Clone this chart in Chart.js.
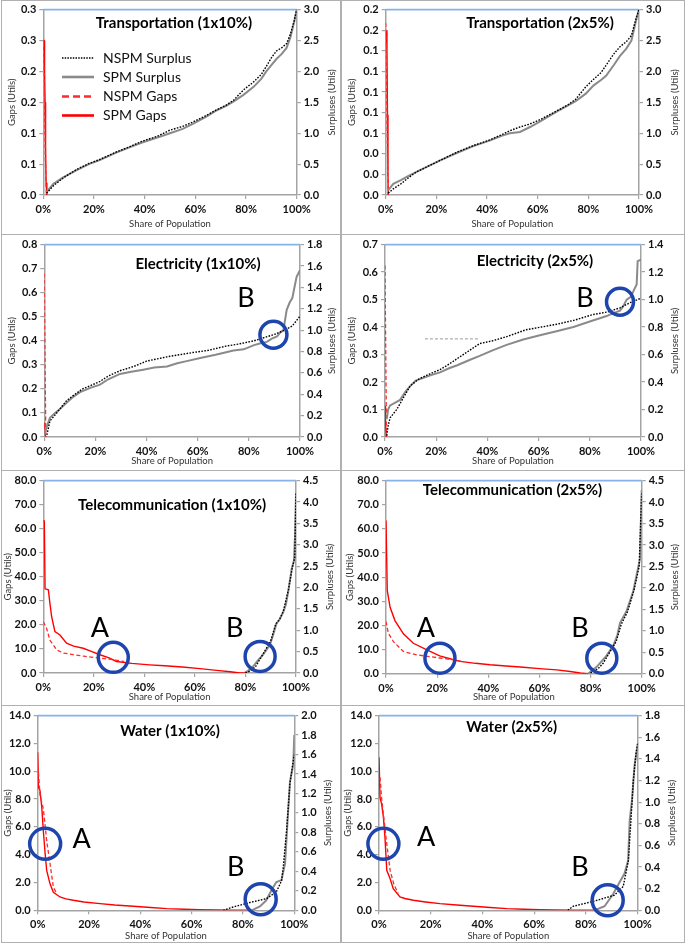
<!DOCTYPE html>
<html><head><meta charset="utf-8">
<script src="https://cdn.jsdelivr.net/npm/chart.js@4.4.1/dist/chart.umd.min.js"></script>
<style>
html,body{margin:0;padding:0;background:#fff;}
body{width:685px;height:944px;position:relative;overflow:hidden;}
.panel{position:absolute;}
.panel canvas{position:absolute;left:0;top:0;}
.frame{position:absolute;border:1px solid #b0b0b0;box-sizing:border-box;pointer-events:none;}
</style></head><body>
<script>
// ---------- tick labels ----------
const xTicks = ['0%','20%','40%','60%','80%','100%'];
const tr1_gapTicks = ['0.0','0.1','0.1','0.2','0.2','0.3','0.3'];
const tr2_gapTicks = ['0.0','0.0','0.0','0.1','0.1','0.1','0.1','0.1','0.2','0.2'];
const tr_surpTicks = ['0.0','0.5','1.0','1.5','2.0','2.5','3.0'];
const el1_gapTicks = ['0.0','0.1','0.2','0.3','0.4','0.5','0.6','0.7','0.8'];
const el1_surpTicks = ['0.0','0.2','0.4','0.6','0.8','1.0','1.2','1.4','1.6','1.8'];
const el2_gapTicks = ['0.0','0.1','0.2','0.3','0.4','0.5','0.6','0.7'];
const el2_surpTicks = ['0.0','0.2','0.4','0.6','0.8','1.0','1.2','1.4'];
const te_gapTicks = ['0.0','10.0','20.0','30.0','40.0','50.0','60.0','70.0','80.0'];
const te_surpTicks = ['0.0','0.5','1.0','1.5','2.0','2.5','3.0','3.5','4.0','4.5'];
const wa_gapTicks = ['0.0','2.0','4.0','6.0','8.0','10.0','12.0','14.0'];
const wa1_surpTicks = ['0.0','0.2','0.4','0.6','0.8','1.0','1.2','1.4','1.6','1.8','2.0'];
const wa2_surpTicks = ['0.0','0.2','0.4','0.6','0.8','1.0','1.2','1.4','1.6','1.8'];

// ---------- Transportation (1x10%) ----------
const tr1_surpX = [1.3,4,8,13,18,22,29,34,39,45,50,55,59,64,68,72,75,79,83,86,88,90,92,94,96,97.5,99,100];
const tr1_spmSurp = [0.05,0.18,0.29,0.40,0.50,0.56,0.69,0.77,0.85,0.93,1.0,1.07,1.15,1.26,1.36,1.44,1.51,1.62,1.75,1.88,2.0,2.1,2.2,2.28,2.38,2.55,2.8,3.0];
const tr1_nspmSurp = [0.03,0.15,0.28,0.41,0.51,0.57,0.70,0.78,0.87,0.95,1.05,1.11,1.18,1.28,1.37,1.45,1.53,1.70,1.83,1.95,2.08,2.22,2.33,2.38,2.45,2.6,2.82,3.0];
const tr1_spmGapX = [0,0.3,0.5,0.7,0.9,1.1,1.4];
const tr1_spmGap = [0.25,0.25,0.2,0.15,0.08,0.02,0];
const tr1_nspmGapX = [0,0.4,0.8,1.2];
const tr1_nspmGap = [0.24,0.18,0.06,0];

// ---------- Transportation (2x5%) ----------
const tr2_surpX = [1,3,6,9,12,17,21.5,28,34.6,41,46,49,53,57,61,67.5,72,75,79,82,85,87,90,92.5,95,97,99,100];
const tr2_spmSurp = [0.08,0.18,0.24,0.31,0.37,0.47,0.56,0.68,0.79,0.88,0.96,1.0,1.02,1.1,1.19,1.35,1.45,1.52,1.64,1.77,1.86,1.93,2.1,2.25,2.37,2.5,2.85,3.0];
const tr2_nspmSurp = [0.03,0.1,0.18,0.28,0.37,0.47,0.56,0.69,0.80,0.89,0.98,1.04,1.1,1.15,1.22,1.36,1.46,1.55,1.75,1.87,1.98,2.1,2.28,2.4,2.48,2.58,2.88,3.0];
const tr2_spmGapX = [0.3,0.5,0.7,0.9,1.0];
const tr2_spmGap = [0.16,0.14,0.078,0.02,0];
const tr2_nspmGapX = [0,0.2,0.4,0.7,1.0];
const tr2_nspmGap = [0.167,0.13,0.1,0.04,0];

// ---------- Electricity (1x10%) ----------
const el1_spmSurpX = [0,1,2.2,4,6,8.7,11,14,18,21.8,25,29.6,34,38.7,43,48,52,55.7,61,67,74,78,82,85,87,89,91,92,93.5,94.8,96,97,98,98.7,100];
const el1_spmSurp = [0.02,0.1,0.18,0.22,0.26,0.32,0.37,0.42,0.46,0.49,0.54,0.59,0.61,0.63,0.65,0.66,0.69,0.71,0.74,0.77,0.81,0.82,0.86,0.88,0.89,0.92,0.94,0.97,1.0,1.19,1.26,1.3,1.42,1.5,1.56];
const el1_nspmSurpX = [1,2.2,4,8.7,12,15,18,21.8,25,29.6,35,40,44,48,53,58,64,71,76,82,86,90,94,97,99,100];
const el1_nspmSurp = [0.02,0.15,0.2,0.34,0.4,0.45,0.48,0.52,0.57,0.62,0.66,0.71,0.73,0.75,0.77,0.79,0.81,0.85,0.87,0.9,0.93,0.96,1.0,1.04,1.1,1.13];
const el1_spmGapX = [0,0.5];
const el1_spmGap = [0.06,0];
const el1_nspmGapX = [0,0.3,0.6];
const el1_nspmGap = [0.68,0.3,0];

// ---------- Electricity (2x5%) ----------
const el2_spmSurpX = [0.7,1.2,2,4,5.9,8,9.8,12,15,18,21.5,25,28,33,37,42,47.5,54,60.5,67,73.6,80,86.6,89,91.8,93,94.4,96,97,98.3,98.7,100];
const el2_spmSurp = [0.13,0.2,0.23,0.25,0.27,0.33,0.37,0.41,0.43,0.45,0.47,0.5,0.52,0.56,0.59,0.63,0.67,0.71,0.74,0.77,0.8,0.84,0.88,0.9,0.92,0.95,1.0,1.02,1.06,1.11,1.28,1.29];
const el2_nspmSurpX = [0.7,1.2,2,4.6,7,9.8,13,17.6,21.5,25,29,33,37,42,47.5,55,61,67,74,81,87,91.8,96,100];
const el2_nspmSurp = [0.01,0.08,0.14,0.2,0.28,0.37,0.42,0.46,0.49,0.53,0.58,0.63,0.68,0.7,0.73,0.78,0.8,0.82,0.85,0.89,0.91,0.94,0.98,1.01];
const el2_spmGapX = [0,0.2,0.5];
const el2_spmGap = [0.114,0.05,0];
const el2_nspmGapX = [0,0.3,0.6];
const el2_nspmGap = [0.624,0.3,0];
const el2_strayX = [15.6,36.5];
const el2_stray = [0.357,0.357];

// ---------- Telecommunication (1x10%) ----------
const te1_spmGapX = [0,0.4,0.7,2,2.5,3.3,4.6,6.6,9.2,12,15.8,19,22.4,26,29,35,42,48,55,62,68.6,74,77.8,80.5];
const te1_spmGap = [63.5,63.2,35,34.6,30,23.4,17.2,15.8,12.4,11.2,10.3,9,7.6,6.3,4.8,4.0,3.4,3.0,2.5,1.8,1.1,0.5,0,0];
const te1_nspmGapX = [0,1.3,2.6,5.3,8,11.9,16,22.4,27.7,32];
const te1_nspmGap = [21.3,18.6,13.7,9.6,8.3,7.6,7.0,6.2,5.5,4.8];
const te1_spmSurpX = [79.8,81,83,85,87,89.7,91,92.3,93.5,95,96,97,98.3,99.2,99.6,100];
const te1_spmSurp = [0.015,0.05,0.15,0.3,0.43,0.66,0.9,1.16,1.25,1.43,1.6,1.93,2.44,2.63,3.2,4.18];
const te1_nspmSurpX = [80,82,84,86,88,90,92,93.5,95,97,98.5,99.5,100];
const te1_nspmSurp = [0.0,0.05,0.15,0.35,0.55,0.75,1.15,1.25,1.45,1.95,2.45,2.7,4.2];

// ---------- Telecommunication (2x5%) ----------
const te2_spmGapX = [0,0.5,1.6,3.5,6.8,10.7,16,21,25,29,35,40.7,47,53.7,60,66.8,72,76,79];
const te2_spmGap = [63.5,34.4,27.5,22,16.5,12.6,9.9,7.4,6.2,5.1,4.3,3.7,3.2,2.7,2.1,1.6,0.9,0.3,0];
const te2_nspmGapX = [0,0.9,2.9,6.8,12,21,26,30];
const te2_nspmGap = [21.6,16.8,13.3,9.2,7.8,6.5,5.8,5.0];
const te2_spmSurpX = [79,82.4,86,89,90.5,91.5,94,96.7,98.7,99.3,100];
const te2_spmSurp = [0,0.16,0.40,0.67,0.9,1.18,1.45,1.92,2.5,2.66,4.28];
const te2_nspmSurpX = [80,83,85,87.5,90,92,94.5,97,99,100];
const te2_nspmSurp = [0.02,0.12,0.25,0.5,0.75,1.15,1.45,1.95,2.5,4.2];

// ---------- Water (1x10%) ----------
const wa1_spmGapX = [0,0.3,0.9,1.6,2.2,2.9,3.5,4.8,6.1,8.7,11,13.9,18,24.3,30,37.3,44,50.3,57,63.2,70,76,82.7];
const wa1_spmGap = [11.36,8.85,8.6,7.4,5.7,4.07,2.87,1.9,1.3,0.96,0.82,0.72,0.6,0.48,0.38,0.29,0.2,0.12,0.08,0.05,0.02,0,0];
const wa1_nspmGapX = [0.3,0.9,2.2,3.5,4.8,6.1,7.4];
const wa1_nspmGap = [9.9,8.3,7.3,5.0,3.35,1.67,1.2];
const wa1_nspmSurpX = [72.3,76.2,82.7,89.2,93,95,95.7,97,98.3,99.6,100];
const wa1_nspmSurp = [0,0.034,0.08,0.12,0.19,0.3,0.44,0.82,1.3,1.54,1.6];
const wa1_spmSurpX = [83.4,86.6,89,91,93,95,96.4,97.3,98.3,99.6,100];
const wa1_spmSurp = [0,0.04,0.10,0.2,0.29,0.31,0.48,0.89,1.32,1.50,1.80];

// ---------- Water (2x5%) ----------
const wa2_spmGapX = [0,0.4,1,1.7,2.3,3,4.3,5.5,8.1,10,13.3,18,23.6,30,36.5,43,49.4,56,62.2,68,75,83];
const wa2_spmGap = [11.0,8.1,7.65,6.7,5.26,2.87,2.27,1.56,0.96,0.85,0.72,0.6,0.48,0.38,0.29,0.2,0.12,0.08,0.05,0.02,0,0];
const wa2_nspmGapX = [0.4,1,1.7,3,4.3,5.7,7.4];
const wa2_nspmGap = [9.56,8.1,6.9,4.78,2.87,1.9,1.2];
const wa2_nspmSurpX = [73,75,83.4,91,94.4,96.4,97.3,98.3,99.4,100];
const wa2_nspmSurp = [0,0.037,0.086,0.14,0.22,0.46,0.8,1.2,1.46,1.54];
const wa2_spmSurpX = [83.4,87.2,90.5,93,94.9,96.3,96.9,97.8,98.8,99.9,100];
const wa2_spmSurp = [0,0.037,0.15,0.26,0.34,0.46,0.83,1.02,1.34,1.52,1.54];

// ---------- layout / styling (page px) ----------
const FONT = 'Lato, "Open Sans", sans-serif';
const AXIS_GRAY = '#a3a3a3';
const panels = [
  {title:'Transportation (1x10%)', box:[0,0,340,233], plot:[43.3,6,296.7,195], tpos:[174,23],
   yMax:0.3, yStep:0.05, yT:tr1_gapTicks, y2Max:3, y2Step:0.5, y2T:tr_surpTicks, ltx:11.7, rtx:331.7, xty:224, legend:true,
   ns:[tr1_surpX,tr1_nspmSurp], ss:[tr1_surpX,tr1_spmSurp], ng:[tr1_nspmGapX,tr1_nspmGap], sg:[tr1_spmGapX,tr1_spmGap], circles:[], letters:[]},
  {title:'Transportation (2x5%)', box:[342,0,685,233], plot:[385.7,6,639,195], tpos:[540,23],
   yMax:0.18, yStep:0.02, yT:tr2_gapTicks, y2Max:3, y2Step:0.5, y2T:tr_surpTicks, ltx:351.7, rtx:675, xty:224,
   ns:[tr2_surpX,tr2_nspmSurp], ss:[tr2_surpX,tr2_spmSurp], ng:[tr2_nspmGapX,tr2_nspmGap], sg:[tr2_spmGapX,tr2_spmGap], circles:[], letters:[]},
  {title:'Electricity (1x10%)', box:[0,235,340,469], plot:[44.3,242.7,300,437], tpos:[198,264],
   yMax:0.8, yStep:0.1, yT:el1_gapTicks, y2Max:1.8, y2Step:0.2, y2T:el1_surpTicks, ltx:11.7, rtx:331.7, xty:461,
   ns:[el1_nspmSurpX,el1_nspmSurp], ss:[el1_spmSurpX,el1_spmSurp], ng:[el1_nspmGapX,el1_nspmGap], sg:[el1_spmGapX,el1_spmGap],
   circles:[{x:89.6,y:0.425,r:13.5}], letters:[{t:'B',x:78.9,y:0.576}]},
  {title:'Electricity (2x5%)', box:[342,235,685,469], plot:[385,242.7,641,437], tpos:[535,261],
   yMax:0.7, yStep:0.1, yT:el2_gapTicks, y2Max:1.4, y2Step:0.2, y2T:el2_surpTicks, ltx:351.7, rtx:675, xty:461,
   ns:[el2_nspmSurpX,el2_nspmSurp], ss:[el2_spmSurpX,el2_spmSurp], ng:[el2_nspmGapX,el2_nspmGap], sg:[el2_spmGapX,el2_spmGap],
   stray:[el2_strayX,el2_stray],
   circles:[{x:91.8,y:0.492,r:13.5}], letters:[{t:'B',x:78.1,y:0.504}]},
  {title:'Telecommunication (1x10%)', box:[0,471,340,704], plot:[43.3,479,296,673], tpos:[172,505],
   yMax:80, yStep:10, yT:te_gapTicks, y2Max:4.5, y2Step:0.5, y2T:te_surpTicks, ltx:7.5, rtx:330, xty:697,
   ns:[te1_nspmSurpX,te1_nspmSurp], ss:[te1_spmSurpX,te1_spmSurp], ng:[te1_nspmGapX,te1_nspmGap], sg:[te1_spmGapX,te1_spmGap],
   circles:[{x:27.7,y:6.5,r:15},{x:85.8,y:6.9,r:15}], letters:[{t:'A',x:22.4,y:18.6},{t:'B',x:75.8,y:18.6}]},
  {title:'Telecommunication (2x5%)', box:[342,471,685,704], plot:[386,479,641.7,673.7], tpos:[512.5,490.5],
   yMax:80, yStep:10, yT:te_gapTicks, y2Max:4.5, y2Step:0.5, y2T:te_surpTicks, ltx:350, rtx:675, xty:697,
   ns:[te2_nspmSurpX,te2_nspmSurp], ss:[te2_spmSurpX,te2_spmSurp], ng:[te2_nspmGapX,te2_nspmGap], sg:[te2_spmGapX,te2_spmGap],
   circles:[{x:21.1,y:6.45,r:15},{x:84.4,y:6.45,r:15}], letters:[{t:'A',x:15.6,y:18.8},{t:'B',x:75.9,y:18.8}]},
  {title:'Water (1x10%)', box:[0,706,340,943], plot:[37.7,715.3,294.3,910.3], tpos:[170,731],
   yMax:14, yStep:2, yT:wa_gapTicks, y2Max:2.0, y2Step:0.2, y2T:wa1_surpTicks, ltx:8.3, rtx:328.3, xty:936,
   ns:[wa1_nspmSurpX,wa1_nspmSurp], ss:[wa1_spmSurpX,wa1_spmSurp], ng:[wa1_nspmGapX,wa1_nspmGap], sg:[wa1_spmGapX,wa1_spmGap],
   circles:[{x:2.9,y:4.78,r:15.5},{x:86.9,y:0.79,r:15.5}], letters:[{t:'A',x:17.1,y:5.14},{t:'B',x:77.2,y:3.11}]},
  {title:'Water (2x5%)', box:[342,706,685,943], plot:[379,715.3,637.7,910.3], tpos:[511.7,727],
   yMax:14, yStep:2, yT:wa_gapTicks, y2Max:1.8, y2Step:0.2, y2T:wa2_surpTicks, ltx:348.3, rtx:671.7, xty:936,
   ns:[wa2_nspmSurpX,wa2_nspmSurp], ss:[wa2_spmSurpX,wa2_spmSurp], ng:[wa2_nspmGapX,wa2_nspmGap], sg:[wa2_spmGapX,wa2_spmGap],
   circles:[{x:1.7,y:4.78,r:15.5},{x:88.4,y:0.72,r:15.5}], letters:[{t:'A',x:18.2,y:5.26},{t:'B',x:77.7,y:3.11}]}
];
const frames = [[1,0,341,235],[341,0,685,235],[1,234,341,471],[341,234,685,471],[1,470,341,706],[341,470,685,706],[1,705,341,943],[341,705,685,943]];

const STY = {
  ns:{label:'NSPM Surplus', color:'#000000', width:1.4, dash:[1.6,1.4], axis:'y2'},
  ss:{label:'SPM Surplus', color:'#8a8a8a', width:2, dash:[], axis:'y2'},
  sg:{label:'SPM Gaps', color:'#ff0000', width:1.4, dash:[], axis:'y'},
  ng:{label:'NSPM Gaps', color:'#ff2a2a', width:1.3, dash:[4,2.5], axis:'y'}
};

function pts(xs, ys){ return xs.map((x,i)=>({x:x, y:ys[i]})); }

function makeDeco(p){
  const ox = p.box[0], oy = p.box[1];
  return {
    id:'deco',
    beforeDatasetsDraw(chart){
      const ctx = chart.ctx, ca = chart.chartArea;
      ctx.save();
      ctx.strokeStyle = '#86b3ea'; ctx.lineWidth = 1.6;
      ctx.beginPath(); ctx.moveTo(ca.left, ca.top); ctx.lineTo(ca.right, ca.top); ctx.stroke();
      ctx.restore();
    },
    afterDraw(chart){
      const ctx = chart.ctx, ca = chart.chartArea, sx = chart.scales.x, sy = chart.scales.y;
      // right axis title
      ctx.save();
      ctx.fillStyle = '#333'; ctx.font = '9.5px ' + FONT; ctx.textAlign = 'center'; ctx.textBaseline = 'middle';
      ctx.translate(p.rtx - ox, (ca.top + ca.bottom) / 2); ctx.rotate(-Math.PI / 2);
      ctx.fillText('Surpluses (Utils)', 0, 0);
      ctx.restore();
      // chart title
      ctx.save();
      ctx.fillStyle = '#000'; ctx.font = 'bold 15px ' + FONT; ctx.textAlign = 'center'; ctx.textBaseline = 'middle';
      ctx.fillText(p.title, p.tpos[0] - ox, p.tpos[1] - oy);
      ctx.restore();
      // legend
      if (p.legend) {
        const rows = [['ns',58],['ss',77],['ng',96.5],['sg',115.5]];
        ctx.save();
        rows.forEach(([k, yy]) => {
          const s = STY[k];
          ctx.strokeStyle = s.color;
          ctx.lineWidth = k === 'ns' ? 1.3 : 2.6;
          ctx.setLineDash(k === 'ns' ? [1.5,1.2] : (k === 'ng' ? [7,4] : []));
          ctx.beginPath(); ctx.moveTo(62 - ox, yy - oy); ctx.lineTo(94 - ox, yy - oy); ctx.stroke();
          ctx.setLineDash([]);
          ctx.fillStyle = '#111'; ctx.font = '14px ' + FONT; ctx.textAlign = 'left'; ctx.textBaseline = 'middle';
          ctx.fillText(s.label, 103 - ox, yy - oy);
        });
        ctx.restore();
      }
      // circles
      ctx.save();
      ctx.strokeStyle = '#1d45ad'; ctx.lineWidth = 3.5;
      p.circles.forEach(c => {
        ctx.beginPath(); ctx.arc(sx.getPixelForValue(c.x), sy.getPixelForValue(c.y), c.r, 0, Math.PI * 2); ctx.stroke();
      });
      ctx.restore();
      // letters
      ctx.save();
      ctx.fillStyle = '#000'; ctx.font = '27px ' + FONT; ctx.textAlign = 'center'; ctx.textBaseline = 'middle';
      p.letters.forEach(l => ctx.fillText(l.t, sx.getPixelForValue(l.x), sy.getPixelForValue(l.y)));
      ctx.restore();
    }
  };
}

function build(p){
  const W = p.box[2] - p.box[0], H = p.box[3] - p.box[1];
  const wrap = document.createElement('div');
  wrap.className = 'panel';
  wrap.style.left = p.box[0] + 'px'; wrap.style.top = p.box[1] + 'px';
  wrap.style.width = W + 'px'; wrap.style.height = H + 'px';
  const cv = document.createElement('canvas');
  cv.width = W; cv.height = H; cv.style.width = W + 'px'; cv.style.height = H + 'px';
  wrap.appendChild(cv); document.body.appendChild(wrap);

  const leftW = p.plot[0] - p.box[0];
  const rightW = p.box[2] - p.plot[2];
  const topPad = p.plot[1] - p.box[1];
  const botH = p.box[3] - p.plot[3];
  const tSize = 9.5, tLH = tSize * 1.2;

  const datasets = [];
  ['ns','ss','ng','sg'].forEach(k => {
    const s = STY[k];
    datasets.push({label:s.label, data:pts(p[k][0], p[k][1]), yAxisID:s.axis, showLine:true, pointRadius:0,
      borderColor:s.color, backgroundColor:s.color, borderWidth:s.width, borderDash:s.dash, fill:false, tension:0});
  });
  if (p.stray) datasets.push({label:'', data:pts(p.stray[0], p.stray[1]), yAxisID:'y', showLine:true, pointRadius:0,
      borderColor:'#9a9a9a', borderWidth:1, borderDash:[3,2], fill:false});

  const tickFont = {family:FONT, weight:'bold', size:11};
  const gridCfg = {display:true, drawOnChartArea:false, drawTicks:true, tickLength:4, color:AXIS_GRAY, lineWidth:1.2};
  const borderCfg = {display:true, color:AXIS_GRAY, width:1.5};

  new Chart(cv, {
    type:'scatter',
    data:{datasets},
    options:{
      responsive:false, animation:false, events:[],
      layout:{padding:{top:topPad, left:0, right:0, bottom:0}},
      plugins:{legend:{display:false}, tooltip:{enabled:false}},
      scales:{
        x:{type:'linear', position:'bottom', min:0, max:100,
           afterFit(s){ s.height = botH; },
           ticks:{stepSize:20, autoSkip:false, maxRotation:0, padding:4, color:'#111', font:tickFont, callback:(v,i)=>xTicks[i]},
           grid:gridCfg, border:borderCfg,
           title:{display:true, text:'Share of Population', color:'#333', font:{family:FONT, size:tSize},
                  padding:{top:0, bottom:Math.max(0, (p.box[3] - p.xty) - tLH/2)}}},
        y:{type:'linear', position:'left', min:0, max:p.yMax,
           afterFit(s){ s.width = leftW; },
           ticks:{stepSize:p.yStep, autoSkip:false, padding:3, color:'#111', font:tickFont, callback:(v,i)=>p.yT[i]},
           grid:gridCfg, border:borderCfg,
           title:{display:true, text:'Gaps (Utils)', color:'#333', font:{family:FONT, size:tSize},
                  padding:{top:Math.max(0, (p.ltx - p.box[0]) - tLH/2), bottom:0}}},
        y2:{type:'linear', position:'right', min:0, max:p.y2Max,
           afterFit(s){ s.width = rightW; },
           ticks:{stepSize:p.y2Step, autoSkip:false, padding:3, color:'#111', font:tickFont, callback:(v,i)=>p.y2T[i]},
           grid:gridCfg, border:borderCfg, title:{display:false}}
      }
    },
    plugins:[makeDeco(p)]
  });
}

panels.forEach(build);
frames.forEach(f => {
  const d = document.createElement('div'); d.className = 'frame';
  d.style.left = f[0] + 'px'; d.style.top = f[1] + 'px';
  d.style.width = (f[2] - f[0]) + 'px'; d.style.height = (f[3] - f[1]) + 'px';
  document.body.appendChild(d);
});
</script>
</body></html>
